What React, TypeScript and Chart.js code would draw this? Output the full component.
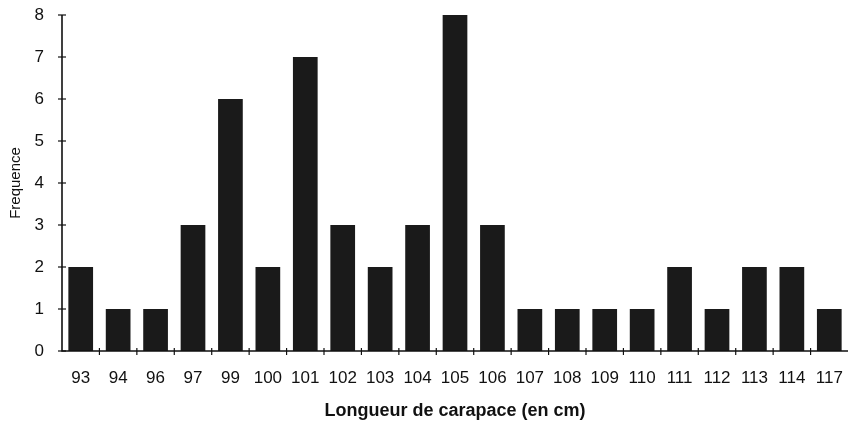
import React, { useEffect, useRef } from "react";
import { Chart, registerables } from "chart.js";

Chart.register(...registerables);

const categories = ["93", "94", "96", "97", "99", "100", "101", "102", "103", "104", "105", "106", "107", "108", "109", "110", "111", "112", "113", "114", "117"];
const frequencies = [2, 1, 1, 3, 6, 2, 7, 3, 2, 3, 8, 3, 1, 1, 1, 1, 2, 1, 2, 2, 1];
const yTicks = [0, 1, 2, 3, 4, 5, 6, 7, 8];

const FONT = "Liberation Sans, Arial, sans-serif";

const crossTicks = {
  id: "crossTicks",
  afterDraw(chart: any) {
    const ctx = chart.ctx;
    const x = chart.scales.x;
    const y = chart.scales.y;
    const area = chart.chartArea;
    ctx.save();
    ctx.strokeStyle = "#111";
    ctx.lineWidth = 1.2;
    yTicks.forEach((v) => {
      const py = y.getPixelForValue(v);
      ctx.beginPath();
      ctx.moveTo(area.left - 4, py);
      ctx.lineTo(area.left + 4, py);
      ctx.stroke();
    });
    for (let i = 1; i < categories.length; i++) {
      const px = (x.getPixelForValue(i - 1) + x.getPixelForValue(i)) / 2;
      ctx.beginPath();
      ctx.moveTo(px, area.bottom - 3);
      ctx.lineTo(px, area.bottom + 4);
      ctx.stroke();
    }
    ctx.lineWidth = 1.6;
    ctx.beginPath();
    ctx.moveTo(area.left, y.getPixelForValue(8));
    ctx.lineTo(area.left, area.bottom);
    ctx.lineTo(area.right, area.bottom);
    ctx.stroke();
    ctx.restore();
  },
};

export default function App() {
  const ref = useRef<HTMLCanvasElement>(null);
  useEffect(() => {
    document.body.style.margin = "0";
    const chart = new Chart(ref.current as HTMLCanvasElement, {
      type: "bar",
      data: {
        labels: categories,
        datasets: [
          {
            data: frequencies,
            backgroundColor: "#1a1a1a",
            borderWidth: 0,
            barPercentage: 0.66,
            categoryPercentage: 1,
          },
        ],
      },
      options: {
        animation: false,
        responsive: false,
        maintainAspectRatio: false,
        layout: { padding: { top: 15, right: 0, left: 0, bottom: 0 } },
        plugins: { legend: { display: false }, tooltip: { enabled: false } },
        scales: {
          x: {
            grid: { display: false },
            border: { display: false },
            ticks: {
              color: "#111",
              font: { family: FONT, size: 17 },
              padding: 9,
              maxRotation: 0,
              autoSkip: false,
            },
            title: {
              display: true,
              text: "Longueur de carapace (en cm)",
              color: "#111",
              font: { family: FONT, size: 18, weight: "bold" },
              padding: { top: 4, bottom: 7 },
            },
            afterFit: (s: any) => {
              s.height = 78;
              s.paddingLeft = 0;
              s.paddingRight = 0;
            },
          },
          y: {
            min: 0,
            max: 8,
            grid: { display: false },
            border: { display: false },
            ticks: {
              stepSize: 1,
              color: "#111",
              font: { family: FONT, size: 17 },
              padding: 10,
            },
            title: {
              display: true,
              text: "Frequence",
              color: "#111",
              font: { family: FONT, size: 15 },
              padding: { top: 7, bottom: 6 },
            },
            afterFit: (s: any) => {
              s.width = 62;
              s.paddingTop = 0;
              s.paddingBottom = 0;
            },
          },
        },
      },
      plugins: [crossTicks],
    });
    return () => chart.destroy();
  }, []);
  return (
    <div style={{ width: 848, height: 429 }}>
      <canvas ref={ref} width={848} height={429} />
    </div>
  );
}
